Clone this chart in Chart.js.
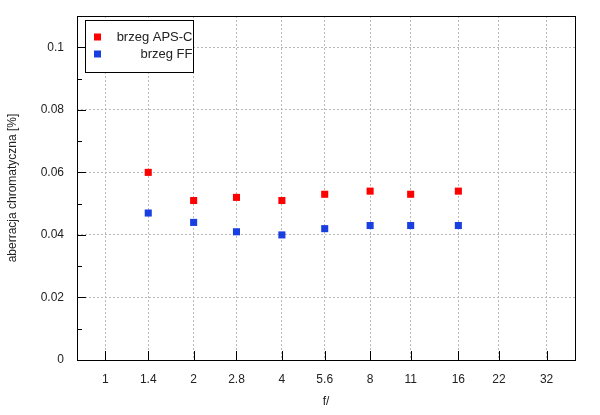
<!DOCTYPE html>
<html>
<head>
<meta charset="utf-8">
<script src="https://cdn.jsdelivr.net/npm/chart.js@4"></script>
<style>
html,body{margin:0;padding:0;background:#fff;}
#wrap{width:600px;height:415px;position:relative;}
</style>
</head>
<body>
<div id="wrap"><canvas id="c" width="600" height="415"></canvas></div>
<script>
const fStops = [1.4, 2, 2.8, 4, 5.6, 8, 11, 16];
const apsC = [0.060, 0.051, 0.052, 0.051, 0.053, 0.054, 0.053, 0.054];
const ff = [0.047, 0.044, 0.041, 0.040, 0.042, 0.043, 0.043, 0.043];
const xTickValues = [1, 1.4, 2, 2.8, 4, 5.6, 8, 11, 16, 22, 32];
const yTickValues = [0, 0.02, 0.04, 0.06, 0.08, 0.1];
const yMinorValues = [0.01, 0.03, 0.05, 0.07, 0.09];
const seriesLabels = ['brzeg APS-C', 'brzeg FF'];
const seriesColors = ['#ff0000', '#1a3fe0'];

const FONT = 'Liberation Sans, Arial, sans-serif';

const framePlugin = {
  id: 'frame',
  afterDraw(chart) {
    const ctx = chart.ctx;
    const a = chart.chartArea;
    const xs = chart.scales.x, ys = chart.scales.y;
    ctx.save();
    ctx.strokeStyle = '#000';
    ctx.lineWidth = 1;
    ctx.beginPath();
    xs.ticks.forEach(t => {
      const px = Math.round(xs.getPixelForValue(t.value)) + 0.5;
      ctx.moveTo(px, a.bottom);
      ctx.lineTo(px, a.bottom - 9);
    });
    ys.ticks.forEach(t => {
      const py = Math.round(ys.getPixelForValue(t.value)) + 0.5;
      ctx.moveTo(a.left, py);
      ctx.lineTo(a.left + 9, py);
    });
    yMinorValues.forEach(v => {
      const py = Math.round(ys.getPixelForValue(v)) + 0.5;
      ctx.moveTo(a.left, py);
      ctx.lineTo(a.left + 5, py);
    });
    ctx.stroke();
    ctx.strokeRect(Math.round(a.left) + 0.5, Math.round(a.top) + 0.5,
      Math.round(a.right - a.left), Math.round(a.bottom - a.top));

    const bx = Math.round(a.left) + 8.5, by = Math.round(a.top) + 4.5, bw = 108, bh = 52;
    ctx.fillStyle = '#fff';
    ctx.fillRect(bx, by, bw, bh);
    ctx.strokeRect(bx, by, bw, bh);
    ctx.font = '13px ' + FONT;
    ctx.textAlign = 'right';
    ctx.textBaseline = 'middle';
    chart.data.datasets.forEach((ds, i) => {
      const cy = by + 17 + i * 17;
      ctx.fillStyle = ds.backgroundColor;
      ctx.fillRect(bx + 8.5, cy - 4, 7, 7);
      ctx.fillStyle = '#222';
      ctx.fillText(ds.label, bx + bw - 1, cy);
    });
    ctx.restore();
  }
};

new Chart(document.getElementById('c'), {
  type: 'scatter',
  data: {
    datasets: [
      {
        label: seriesLabels[0],
        data: fStops.map((f, i) => ({x: f, y: apsC[i]})),
        backgroundColor: seriesColors[0],
        borderColor: seriesColors[0],
        pointStyle: 'rect',
        pointRadius: 5,
        pointBorderWidth: 0
      },
      {
        label: seriesLabels[1],
        data: fStops.map((f, i) => ({x: f, y: ff[i]})),
        backgroundColor: seriesColors[1],
        borderColor: seriesColors[1],
        pointStyle: 'rect',
        pointRadius: 5,
        pointBorderWidth: 0
      }
    ]
  },
  options: {
    responsive: false,
    animation: false,
    devicePixelRatio: 1,
    layout: {padding: {left: 0, top: 16, right: 25, bottom: 0}},
    plugins: {legend: {display: false}, tooltip: {enabled: false}},
    scales: {
      x: {
        type: 'logarithmic',
        min: 0.8,
        max: 40,
        afterBuildTicks(scale) { scale.ticks = xTickValues.map(v => ({value: v})); },
        afterFit(scale) {
          scale.height = 55;
          scale.paddingLeft = 0; scale.paddingRight = 0;
          scale.paddingTop = 0; scale.paddingBottom = 0;
        },
        grid: {
          color: '#b8b8b8',
          lineWidth: 1,
          drawTicks: false
        },
        border: {display: false, dash: [2, 2]},
        ticks: {
          autoSkip: false,
          maxRotation: 0,
          padding: 12,
          color: '#222',
          font: {family: FONT, size: 12},
          callback: (v) => String(v)
        },
        title: {
          display: true,
          text: 'f/',
          color: '#222',
          font: {family: FONT, size: 12},
          padding: {top: 0, bottom: 6}
        }
      },
      y: {
        min: 0,
        max: 0.11,
        afterBuildTicks(scale) {
          scale.ticks = yTickValues.map(v => ({value: v}));
        },
        afterFit(scale) {
          scale.width = 77;
          scale.paddingLeft = 0; scale.paddingRight = 0;
          scale.paddingTop = 0; scale.paddingBottom = 0;
        },
        grid: {
          color: (c) => c.tick && c.tick.value === 0 ? 'rgba(0,0,0,0)' : '#b8b8b8',
          lineWidth: 1,
          drawTicks: false
        },
        border: {display: false, dash: [2, 2]},
        ticks: {
          padding: 13,
          color: '#222',
          font: {family: FONT, size: 12},
          callback: (v) => String(v)
        },
        title: {
          display: true,
          text: 'aberracja chromatyczna [%]',
          color: '#222',
          font: {family: FONT, size: 12},
          padding: {top: 5, bottom: 0}
        }
      }
    }
  },
  plugins: [framePlugin]
});
</script>
</body>
</html>
